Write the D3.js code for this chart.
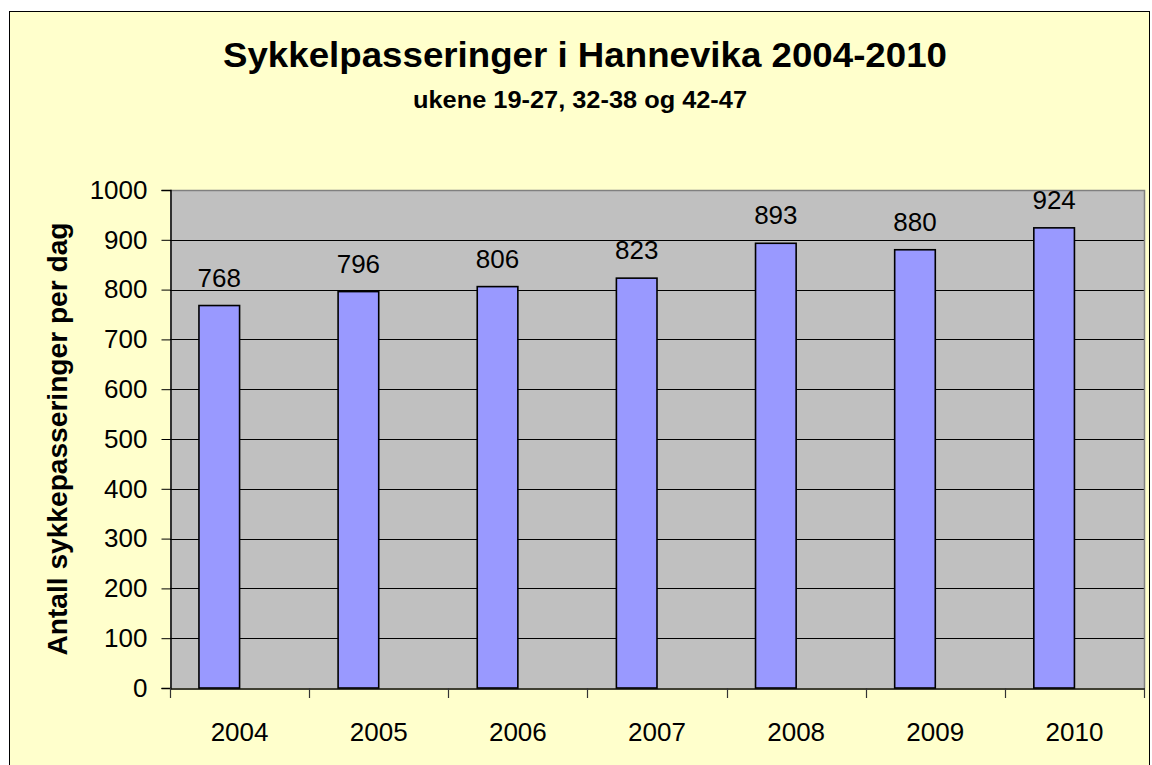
<!DOCTYPE html>
<html>
<head>
<meta charset="utf-8">
<script src="https://cdn.jsdelivr.net/npm/d3@7"></script>
<style>
  html, body { margin: 0; padding: 0; background: #ffffff; }
  svg { display: block; font-family: Arial, "Liberation Sans", sans-serif; }
</style>
</head>
<body>
<svg id="chart" width="1152" height="765"></svg>
<script>
const categories = ["2004", "2005", "2006", "2007", "2008", "2009", "2010"];
const values = [768, 796, 806, 823, 893, 880, 924];
const seriesSlots = ["Sykkelpasseringer", "(tom)"];
const yTicks = [0, 100, 200, 300, 400, 500, 600, 700, 800, 900, 1000];
const titleText = "Sykkelpasseringer i Hannevika 2004-2010";
const subtitleText = "ukene 19-27, 32-38 og 42-47";
const yAxisTitle = "Antall sykkepasseringer per dag";

const svg = d3.select("#chart");
const FONT = "Arial, 'Liberation Sans', sans-serif";

// chart area
svg.append("rect")
  .attr("x", 9.5).attr("y", 11.5)
  .attr("width", 1140).attr("height", 770)
  .attr("fill", "#FFFFCC").attr("stroke", "#000").attr("stroke-width", 1);

const plot = { left: 170, right: 1144, top: 190, bottom: 688 };

const x0 = d3.scaleBand().domain(categories).range([plot.left, plot.right]).padding(0);
const x1 = d3.scaleBand().domain(seriesSlots).range([0, x0.bandwidth()])
  .paddingInner(0).paddingOuter(0.713);
const y = d3.scaleLinear().domain([0, 1000]).range([plot.bottom, plot.top]);

// plot background
svg.append("rect")
  .attr("x", plot.left).attr("y", plot.top)
  .attr("width", plot.right - plot.left).attr("height", plot.bottom - plot.top)
  .attr("fill", "#C0C0C0");

// gridlines
svg.append("g").selectAll("line").data(yTicks.filter(d => d > 0))
  .join("line")
  .attr("x1", plot.left).attr("x2", plot.right)
  .attr("y1", d => Math.round(y(d)) + 0.5).attr("y2", d => Math.round(y(d)) + 0.5)
  .attr("stroke", "#000").attr("stroke-width", 1);

// plot border top/right (gray)
svg.append("path")
  .attr("d", `M${plot.left},${plot.top + 0.5}H${plot.right + 0.5}V${plot.bottom}`)
  .attr("fill", "none").attr("stroke", "#808080").attr("stroke-width", 1.5);

// bars
svg.append("g").selectAll("rect").data(values)
  .join("rect")
  .attr("x", (d, i) => x0(categories[i]) + x1(seriesSlots[0]))
  .attr("y", d => y(d))
  .attr("width", x1.bandwidth())
  .attr("height", d => y(0) - y(d))
  .attr("fill", "#9999FF").attr("stroke", "#000").attr("stroke-width", 1.6);

// value labels
svg.append("g").selectAll("text").data(values)
  .join("text")
  .attr("x", (d, i) => x0(categories[i]) + x1(seriesSlots[0]) + x1.bandwidth() / 2)
  .attr("y", d => y(d) - 19)
  .attr("text-anchor", "middle")
  .attr("font-size", 26).attr("fill", "#000")
  .text(d => d);

// y axis
const yAxis = d3.axisLeft(y).tickValues(yTicks).tickSize(9).tickPadding(14).tickFormat(d3.format("d"));
const gy = svg.append("g").attr("transform", `translate(${plot.left + 0.5},0)`).call(yAxis);
gy.select(".domain").attr("stroke", "#000").attr("stroke-width", 1.5);
gy.selectAll(".tick line").attr("stroke", "#000");
gy.selectAll(".tick text").attr("font-size", 26).attr("font-family", FONT).attr("fill", "#000");

// x axis
const xAxis = d3.axisBottom(x0).tickSize(0).tickPadding(0);
const gx = svg.append("g").attr("transform", `translate(0,${plot.bottom + 0.5})`).call(xAxis);
gx.select(".domain").attr("stroke", "#000").attr("stroke-width", 1.5);
gx.selectAll(".tick text").attr("font-size", 26).attr("font-family", FONT)
  .attr("fill", "#000").attr("dy", null).attr("y", 52);
// category boundary ticks
const bounds = categories.map(c => x0(c)).concat([plot.right]);
svg.append("g").selectAll("line").data(bounds)
  .join("line")
  .attr("x1", d => Math.round(d) + 0.5).attr("x2", d => Math.round(d) + 0.5)
  .attr("y1", plot.bottom).attr("y2", plot.bottom + 10)
  .attr("stroke", "#333").attr("stroke-width", 1.2);

// titles
svg.append("text")
  .attr("x", 585).attr("y", 67)
  .attr("text-anchor", "middle")
  .attr("font-size", 35).attr("font-weight", "bold").attr("fill", "#000")
  .attr("textLength", 724).attr("lengthAdjust", "spacingAndGlyphs")
  .text(titleText);

svg.append("text")
  .attr("x", 580).attr("y", 108)
  .attr("text-anchor", "middle")
  .attr("font-size", 24).attr("font-weight", "bold").attr("fill", "#000")
  .attr("textLength", 334).attr("lengthAdjust", "spacingAndGlyphs")
  .text(subtitleText);

svg.append("text")
  .attr("transform", `translate(67,${(plot.top + plot.bottom) / 2}) rotate(-90)`)
  .attr("text-anchor", "middle")
  .attr("font-size", 28).attr("font-weight", "bold").attr("fill", "#000")
  .attr("textLength", 433).attr("lengthAdjust", "spacingAndGlyphs")
  .text(yAxisTitle);
</script>
</body>
</html>
